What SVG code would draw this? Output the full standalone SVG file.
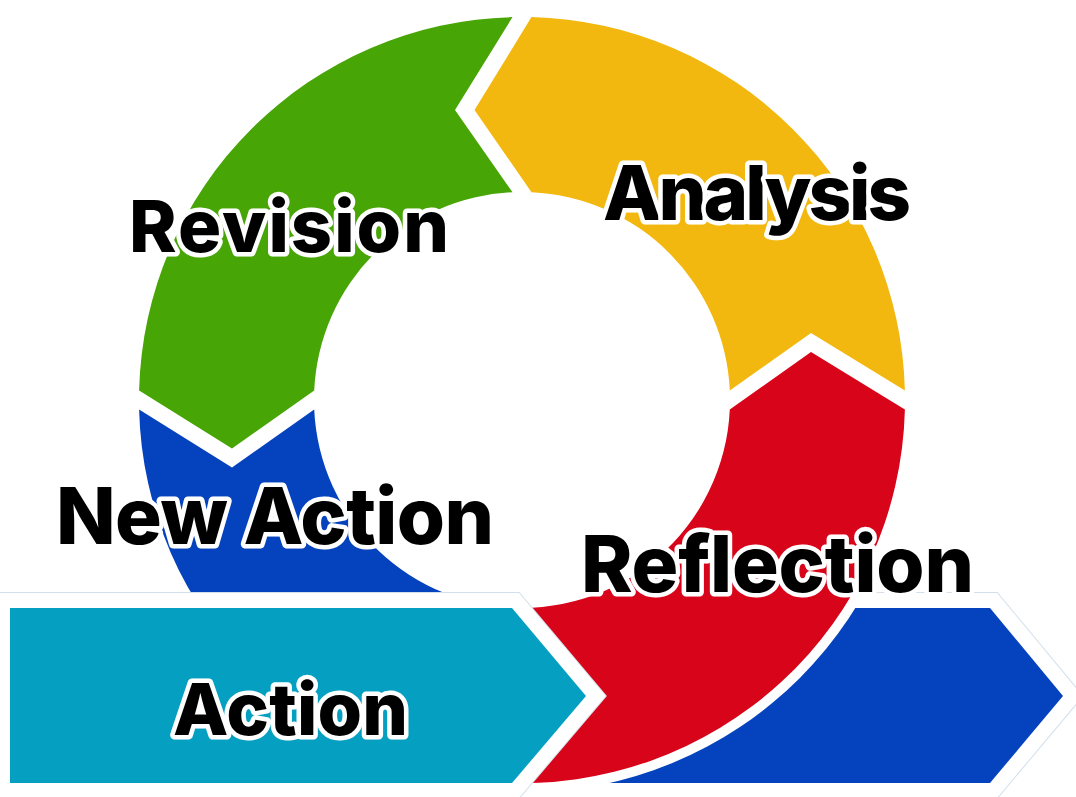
<svg xmlns="http://www.w3.org/2000/svg" width="1076" height="797" viewBox="0 0 1076 797">
<style>
.lbl{font-family:Inter,"Liberation Sans",Arial,sans-serif;font-weight:800;fill:#000;stroke:#fff;stroke-width:9;stroke-linejoin:round;paint-order:stroke}
.edge{fill:none;stroke:#d3e0ec;stroke-width:32;stroke-linejoin:miter;stroke-miterlimit:10}
.halo{fill:none;stroke:#fff;stroke-width:30;stroke-linejoin:miter;stroke-miterlimit:10}
</style>
<rect width="1076" height="797" fill="#fff"/>
<g id="arrow-out">
<polygon class="edge" points="300,608 990,608 1063,696 990,783 300,783"/>
<polygon class="halo" points="300,608 990,608 1063,696 990,783 300,783"/>
<polygon fill="#0542bd" points="300,608 990,608 1063,696 990,783 300,783"/>
</g>
<circle cx="522" cy="400" r="393" fill="#fff"/>
<g id="reflection">
<path fill="#d80419" d="M500,782.4 A383,383 0 0 0 904.9,409.5 L811,352 L729.8,409.5 A208,208 0 0 1 500,606.8 Z"/>
</g>
<g id="analysis">
<path fill="#f2b80f" d="M904.9,390.5 L811,333 L729.8,390.5 A208,208 0 0 0 531.5,192.2 L474.5,110 L531.5,17.1 A383,383 0 0 1 904.9,390.5 Z"/>
</g>
<g id="revision">
<path fill="#47a506" d="M512.5,17.1 L455,110 L512.5,192.2 A208,208 0 0 0 314.2,390.5 L232,448.5 L139.1,390.5 A383,383 0 0 1 512.5,17.1 Z"/>
</g>
<g id="new-action">
<path fill="#0542bd" d="M139.1,409.5 L232,467.5 L314.2,409.5 A208,208 0 0 0 522,608 L522,783 A383,383 0 0 1 139.1,409.5 Z"/>
</g>
<g id="action">
<polygon class="edge" points="10,608 512,608 586,696 512,783 10,783"/>
<polygon class="halo" points="10,608 512,608 586,696 512,783 10,783"/>
<polygon fill="#049fc1" points="10,608 512,608 586,696 512,783 10,783"/>
</g>
<g id="labels">
<text class="lbl" x="129" y="252" font-size="72" textLength="320">Revision</text>
<text class="lbl" x="603" y="220" font-size="76" textLength="308">Analysis</text>
<text class="lbl" x="56" y="544" font-size="78" textLength="438">New Action</text>
<text class="lbl" x="581" y="592" font-size="78" textLength="393">Reflection</text>
<text class="lbl" x="173" y="735" font-size="72" textLength="235">Action</text>
</g>
</svg>
